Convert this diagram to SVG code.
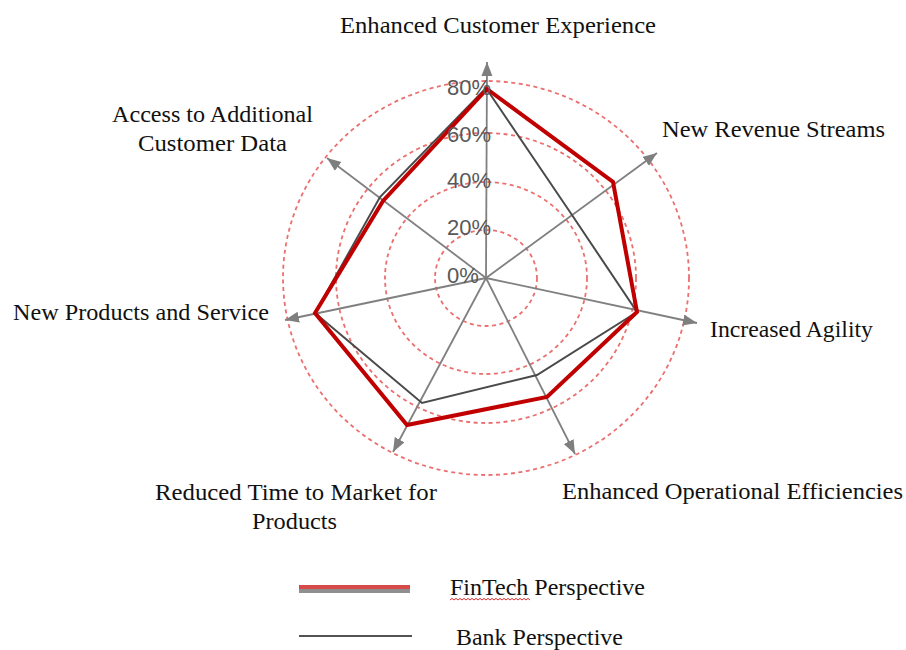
<svg xmlns="http://www.w3.org/2000/svg" width="906" height="650" viewBox="0 0 906 650">
<defs>
<style>
.ring{fill:none;stroke:#ec6f6f;stroke-width:1.8;stroke-dasharray:4 3.5}
.axis{stroke:#808080;stroke-width:1.8;fill:none;marker-end:url(#arr)}
.pct{font-family:"Liberation Sans",Arial,sans-serif;font-size:22px;fill:#585858}
.lbl{font-family:"Liberation Serif","Times New Roman",serif;font-size:22.5px;fill:#111111}
</style>
<marker id="arr" markerUnits="userSpaceOnUse" markerWidth="16" markerHeight="12" refX="14" refY="5.5" orient="auto">
<path d="M0,0 L14,5.5 L0,11 z" fill="#7f7f7f"/>
</marker>
</defs>
<rect width="906" height="650" fill="#ffffff"/>
<g id="rings">
<ellipse class="ring" cx="486" cy="278" rx="51" ry="48"/>
<ellipse class="ring" cx="486" cy="278" rx="101" ry="96"/>
<ellipse class="ring" cx="486" cy="278" rx="150" ry="145"/>
<ellipse class="ring" cx="486" cy="278" rx="203" ry="197"/>
</g>
<g id="connectors">
<line class="axis" x1="486" y1="278" x2="487" y2="62"/>
<line class="axis" x1="486" y1="278" x2="657" y2="153"/>
<line class="axis" x1="486" y1="278" x2="697" y2="323"/>
<line class="axis" x1="486" y1="278" x2="575" y2="454"/>
<line class="axis" x1="486" y1="278" x2="393" y2="452"/>
<line class="axis" x1="486" y1="278" x2="285" y2="320"/>
<line class="axis" x1="486" y1="278" x2="327" y2="158"/>
</g>
<g id="series-bank">
<polygon points="486,88 572,215 637,312 537,375 422,403 315,313 380,197" fill="none" stroke="#4a4a4a" stroke-width="2" stroke-linejoin="miter"/>
</g>
<g id="series-fintech">
<polygon points="487,89 613,182 637,312 547,397 407,425 315,313 383,201" fill="none" stroke="#c00000" stroke-width="4" stroke-linejoin="miter"/>
</g>
<g id="scale-labels">
<text class="pct" x="447" y="95">80%</text>
<text class="pct" x="447" y="142">60%</text>
<text class="pct" x="447" y="188">40%</text>
<text class="pct" x="447" y="235">20%</text>
<text class="pct" x="447" y="283">0%</text>
</g>
<g id="axis-labels">
<text class="lbl" x="340" y="33" textLength="316" lengthAdjust="spacingAndGlyphs">Enhanced Customer Experience</text>
<text class="lbl" x="662" y="137" textLength="223" lengthAdjust="spacingAndGlyphs">New Revenue Streams</text>
<text class="lbl" x="710" y="337" textLength="163" lengthAdjust="spacingAndGlyphs">Increased Agility</text>
<text class="lbl" x="562" y="499" textLength="341" lengthAdjust="spacingAndGlyphs">Enhanced Operational Efficiencies</text>
<text class="lbl" x="155" y="500" textLength="282" lengthAdjust="spacingAndGlyphs">Reduced Time to Market for</text>
<text class="lbl" x="252" y="529" textLength="85" lengthAdjust="spacingAndGlyphs">Products</text>
<text class="lbl" x="13" y="320" textLength="256" lengthAdjust="spacingAndGlyphs">New Products and Service</text>
<text class="lbl" x="112" y="122" textLength="201" lengthAdjust="spacingAndGlyphs">Access to Additional</text>
<text class="lbl" x="138" y="151" textLength="149" lengthAdjust="spacingAndGlyphs">Customer Data</text>
</g>
<g id="legend">
<rect x="299" y="585" width="111" height="4" fill="#d64a4a"/>
<rect x="299" y="589" width="111" height="4" fill="#8f8f8f"/>
<line x1="299" y1="636" x2="412" y2="636" stroke="#1a1a1a" stroke-width="1.6"/>
<text class="lbl" x="450" y="595" textLength="195" lengthAdjust="spacingAndGlyphs">FinTech Perspective</text>
<path d="M450,600 l2,-1.6 l2,1.6 l2,-1.6 l2,1.6 l2,-1.6 l2,1.6 l2,-1.6 l2,1.6 l2,-1.6 l2,1.6 l2,-1.6 l2,1.6 l2,-1.6 l2,1.6 l2,-1.6 l2,1.6 l2,-1.6 l2,1.6 l2,-1.6 l2,1.6 l2,-1.6 l2,1.6 l2,-1.6 l2,1.6 l2,-1.6 l2,1.6 l2,-1.6 l2,1.6 l2,-1.6 l2,1.6 l2,-1.6 l2,1.6 l2,-1.6 l2,1.6 l2,-1.6 l2,1.6 l2,-1.6 l2,1.6 l2,-1.6 l2,1.6" fill="none" stroke="#e03030" stroke-width="1"/>
<text class="lbl" x="456" y="645" textLength="167" lengthAdjust="spacingAndGlyphs">Bank Perspective</text>
</g>
</svg>
